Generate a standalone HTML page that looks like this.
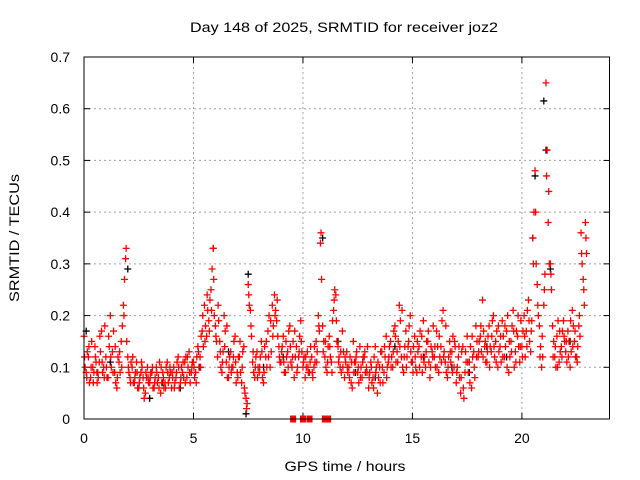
<!DOCTYPE html>
<html><head><meta charset="utf-8"><style>
html,body{margin:0;padding:0;background:#fff;}
svg{display:block;font-family:"Liberation Sans",sans-serif;}
</style></head><body>
<svg id="chart" width="640" height="480" viewBox="0 0 640 480">
<text x="344" y="32" font-size="14" text-anchor="middle" textLength="308" lengthAdjust="spacingAndGlyphs">Day 148 of 2025, SRMTID for receiver joz2</text>
<text x="345" y="471" font-size="14" text-anchor="middle" textLength="121" lengthAdjust="spacingAndGlyphs">GPS time / hours</text>
<text transform="translate(19,238) rotate(-90)" font-size="14" text-anchor="middle" textLength="128" lengthAdjust="spacingAndGlyphs">SRMTID / TECUs</text>
<g id="grid"></g>
<g id="ticks"></g>
<g id="marks"></g>
<rect x="84" y="57" width="525.5" height="362" fill="none" stroke="#000" stroke-width="1"/>
</svg>
<script>
const xTicks=[0,5,10,15,20];
const yTicks=[0,0.1,0.2,0.3,0.4,0.5,0.6,0.7];
const yTickLabels=["0","0.1","0.2","0.3","0.4","0.5","0.6","0.7"];
const seriesA=[0.16,0.09,0.12,0.08,0.10,0.14,0.07,0.11,0.17,0.10,
0.12,0.08,0.20,0.13,0.09,0.06,0.11,0.15,0.22,0.31,
0.12,0.08,0.10,0.07,0.11,0.06,0.09,0.08,0.05,0.10,
0.07,0.09,0.06,0.10,0.08,0.05,0.09,0.07,0.11,0.08,
0.06,0.10,0.08,0.12,0.07,0.09,0.11,0.08,0.13,0.09,
0.11,0.09,0.14,0.12,0.17,0.22,0.16,0.19,0.25,0.33,
0.18,0.12,0.15,0.09,0.20,0.11,0.08,0.13,0.10,0.16,
0.09,0.12,0.07,0.14,0.04,0.26,0.21,0.11,0.08,0.13,
0.09,0.15,0.07,0.12,0.17,0.10,0.22,0.24,0.19,0.14,
0.11,0.16,0.09,0.13,0.18,0.10,0.08,0.14,0.12,0.19,
0.10,0.08,0.13,0.09,0.12,0.10,0.15,0.20,0.34,0.18,
0.12,0.09,0.16,0.11,0.21,0.24,0.14,0.10,0.17,0.08,
0.13,0.10,0.07,0.15,0.11,0.09,0.14,0.08,0.12,0.10,
0.06,0.11,0.08,0.14,0.05,0.10,0.13,0.09,0.16,0.11,
0.15,0.10,0.18,0.13,0.22,0.12,0.09,0.17,0.14,0.20,
0.11,0.16,0.09,0.14,0.12,0.19,0.10,0.15,0.08,0.13,
0.12,0.17,0.09,0.14,0.21,0.11,0.08,0.15,0.13,0.10,
0.07,0.12,0.05,0.14,0.09,0.16,0.11,0.06,0.13,0.18,
0.12,0.16,0.23,0.14,0.11,0.18,0.13,0.20,0.15,0.10,
0.14,0.19,0.12,0.17,0.09,0.15,0.21,0.13,0.16,0.11,
0.14,0.20,0.17,0.23,0.13,0.35,0.48,0.26,0.18,0.10,
0.22,0.65,0.38,0.30,0.18,0.12,0.16,0.11,0.14,0.19,
0.13,0.17,0.10,0.21,0.15,0.12,0.18,0.36,0.27,0.38];
const seriesB=[0.10,0.13,0.07,0.15,0.09,0.11,0.08,0.13,0.09,0.18,
0.08,0.14,0.10,0.17,0.07,0.12,0.09,0.18,0.27,0.15,
0.09,0.11,0.07,0.09,0.06,0.08,0.10,0.04,0.08,0.07,
0.09,0.06,0.08,0.07,0.11,0.07,0.06,0.10,0.07,0.09,
0.08,0.07,0.11,0.06,0.10,0.08,0.12,0.10,0.07,0.11,
0.08,0.12,0.10,0.16,0.14,0.18,0.21,0.23,0.29,0.20,
0.15,0.19,0.10,0.13,0.17,0.08,0.12,0.10,0.15,0.07,
0.12,0.09,0.13,0.05,0.03,0.22,0.16,0.09,0.12,0.10,
0.12,0.08,0.14,0.10,0.20,0.13,0.18,0.21,0.16,0.11,
0.14,0.09,0.12,0.17,0.11,0.15,0.12,0.10,0.16,0.13,
0.12,0.10,0.09,0.14,0.08,0.11,0.13,0.17,0.27,0.15,
0.10,0.14,0.12,0.19,0.25,0.15,0.12,0.09,0.13,0.11,
0.09,0.12,0.06,0.11,0.13,0.07,0.10,0.12,0.09,0.14,
0.09,0.07,0.12,0.10,0.08,0.13,0.07,0.12,0.10,0.14,
0.12,0.17,0.11,0.15,0.19,0.10,0.14,0.12,0.18,0.11,
0.14,0.10,0.13,0.17,0.09,0.12,0.15,0.11,0.14,0.18,
0.10,0.14,0.12,0.19,0.13,0.09,0.12,0.11,0.16,0.14,
0.10,0.08,0.13,0.04,0.11,0.09,0.14,0.12,0.08,0.15,
0.15,0.13,0.17,0.11,0.16,0.14,0.19,0.12,0.17,0.13,
0.11,0.16,0.14,0.20,0.12,0.18,0.10,0.17,0.14,0.19,
0.17,0.12,0.21,0.15,0.19,0.40,0.30,0.20,0.14,0.12,
0.28,0.52,0.30,0.25,0.15,0.10,0.19,0.13,0.17,0.15,
0.11,0.15,0.13,0.18,0.12,0.14,0.16,0.30,0.22,0.32];
const seriesC=[0.12,0.08,0.14,0.10,0.07,0.12,0.09,0.16,0.11,0.08,
0.10,0.16,0.12,0.09,0.14,0.08,0.13,0.10,0.20,0.33,
0.10,0.07,0.12,0.08,0.09,0.07,0.11,0.06,0.09,0.08,
0.08,0.10,0.07,0.09,0.06,0.10,0.08,0.06,0.09,0.10,
0.09,0.06,0.09,0.10,0.08,0.11,0.07,0.12,0.09,0.10,
0.10,0.07,0.13,0.10,0.20,0.15,0.24,0.17,0.21,0.27,
0.16,0.22,0.13,0.11,0.14,0.18,0.10,0.09,0.12,0.11,
0.08,0.15,0.10,0.06,0.02,0.24,0.18,0.13,0.10,0.08,
0.10,0.13,0.09,0.15,0.12,0.19,0.16,0.20,0.23,0.12,
0.13,0.11,0.15,0.10,0.14,0.12,0.17,0.09,0.13,0.15,
0.11,0.12,0.10,0.11,0.09,0.14,0.11,0.18,0.36,0.13,
0.15,0.11,0.14,0.09,0.23,0.19,0.11,0.13,0.10,0.12,
0.10,0.08,0.11,0.09,0.12,0.10,0.08,0.11,0.13,0.09,
0.08,0.10,0.06,0.09,0.11,0.07,0.10,0.14,0.08,0.12,
0.10,0.13,0.16,0.11,0.14,0.21,0.12,0.10,0.15,0.13,
0.09,0.12,0.15,0.10,0.16,0.11,0.13,0.17,0.10,0.12,
0.14,0.10,0.16,0.11,0.12,0.18,0.10,0.13,0.09,0.15,
0.09,0.14,0.08,0.06,0.13,0.11,0.07,0.16,0.10,0.12,
0.13,0.18,0.12,0.15,0.13,0.10,0.16,0.14,0.11,0.18,
0.16,0.12,0.18,0.10,0.15,0.13,0.17,0.11,0.20,0.14,
0.12,0.16,0.14,0.19,0.17,0.30,0.40,0.22,0.12,0.16,
0.25,0.47,0.44,0.28,0.12,0.14,0.10,0.17,0.12,0.16,
0.15,0.12,0.19,0.14,0.17,0.11,0.20,0.32,0.25,0.35];
const blackTimes=[0.1,0.6,1.2,2.0,3.0,3.6,4.4,5.3,5.9,6.6,7.4,7.5,8.2,9.1,10.9,11.6,12.4,13.3,14.2,15.5,16.8,17.6,18.4,19.3,20.5,20.6,21.0,21.1,21.3,22.2];
const blackValues=[0.17,0.09,0.11,0.29,0.04,0.07,0.06,0.10,0.33,0.13,0.01,0.28,0.10,0.12,0.35,0.15,0.09,0.08,0.14,0.12,0.10,0.09,0.14,0.12,0.35,0.47,0.615,0.52,0.29,0.15];
const zeroTimes=[9.55,10.0,10.3,11.0,11.15];
const zeroValues=[0,0,0,0,0];

const X0=84,X1=609.5,Y0=419,Y1=57;
const xs=t=>X0+(t/24)*(X1-X0);
const ys=v=>Y0-(v/0.7)*(Y0-Y1);
const NS="http://www.w3.org/2000/svg";
const grid=document.getElementById('grid'),ticks=document.getElementById('ticks'),marks=document.getElementById('marks');
function mk(tag,attrs,parent){const e=document.createElementNS(NS,tag);for(const k in attrs)e.setAttribute(k,attrs[k]);parent.appendChild(e);return e;}
xTicks.forEach((t,i)=>{
  const x=xs(t);
  if(t>0){const g=mk('line',{x1:x,x2:x,y1:Y1,y2:Y0,stroke:'#a0a0a0','stroke-dasharray':'2,3'},grid);
  
  }
  const l=mk('text',{x:x,y:443,'font-size':14,'text-anchor':'middle'},ticks);l.textContent=String(t);
  
  
  mk('line',{x1:x,x2:x,y1:Y0,y2:Y0-6,stroke:'#000'},ticks);
  mk('line',{x1:x,x2:x,y1:Y1,y2:Y1+6,stroke:'#000'},ticks);
});
yTicks.forEach((v,i)=>{
  const y=ys(v);
  if(v>0&&v<0.7){const g=mk('line',{x1:X0,x2:X1,y1:y,y2:y,stroke:'#a0a0a0','stroke-dasharray':'2,3'},grid);
  
  }
  const l=mk('text',{x:70,y:y+5,'font-size':14,'text-anchor':'end'},ticks);l.textContent=yTickLabels[i];
  
  
  mk('line',{x1:X0,x2:X0+6,y1:y,y2:y,stroke:'#000'},ticks);
  mk('line',{x1:X1,x2:X1-6,y1:y,y2:y,stroke:'#000'},ticks);
});
function plus(t,v,color,name){
  const x=xs(t),y=ys(v);
  const p=mk('path',{d:`M${x-3.5},${y}H${x+3.5}M${x},${y-3.5}V${y+3.5}`,stroke:color,'stroke-width':1.3,fill:'none'},marks);
  
  
}
blackTimes.forEach((t,i)=>plus(t,blackValues[i],'#000','black-point'));
seriesA.forEach((v,i)=>plus(i*0.1,v,'#f00','red-point'));
seriesB.forEach((v,i)=>plus(i*0.1+0.05,v,'#f00','red-point'));
seriesC.forEach((v,i)=>plus(i*0.1+0.025,v,'#f00','red-point'));
zeroTimes.forEach((t,i)=>{
  const r=mk('rect',{x:xs(t)-3,y:ys(zeroValues[i])-3.5,width:6,height:7,fill:'#f00'},marks);
  
  
});
</script>
</body></html>
